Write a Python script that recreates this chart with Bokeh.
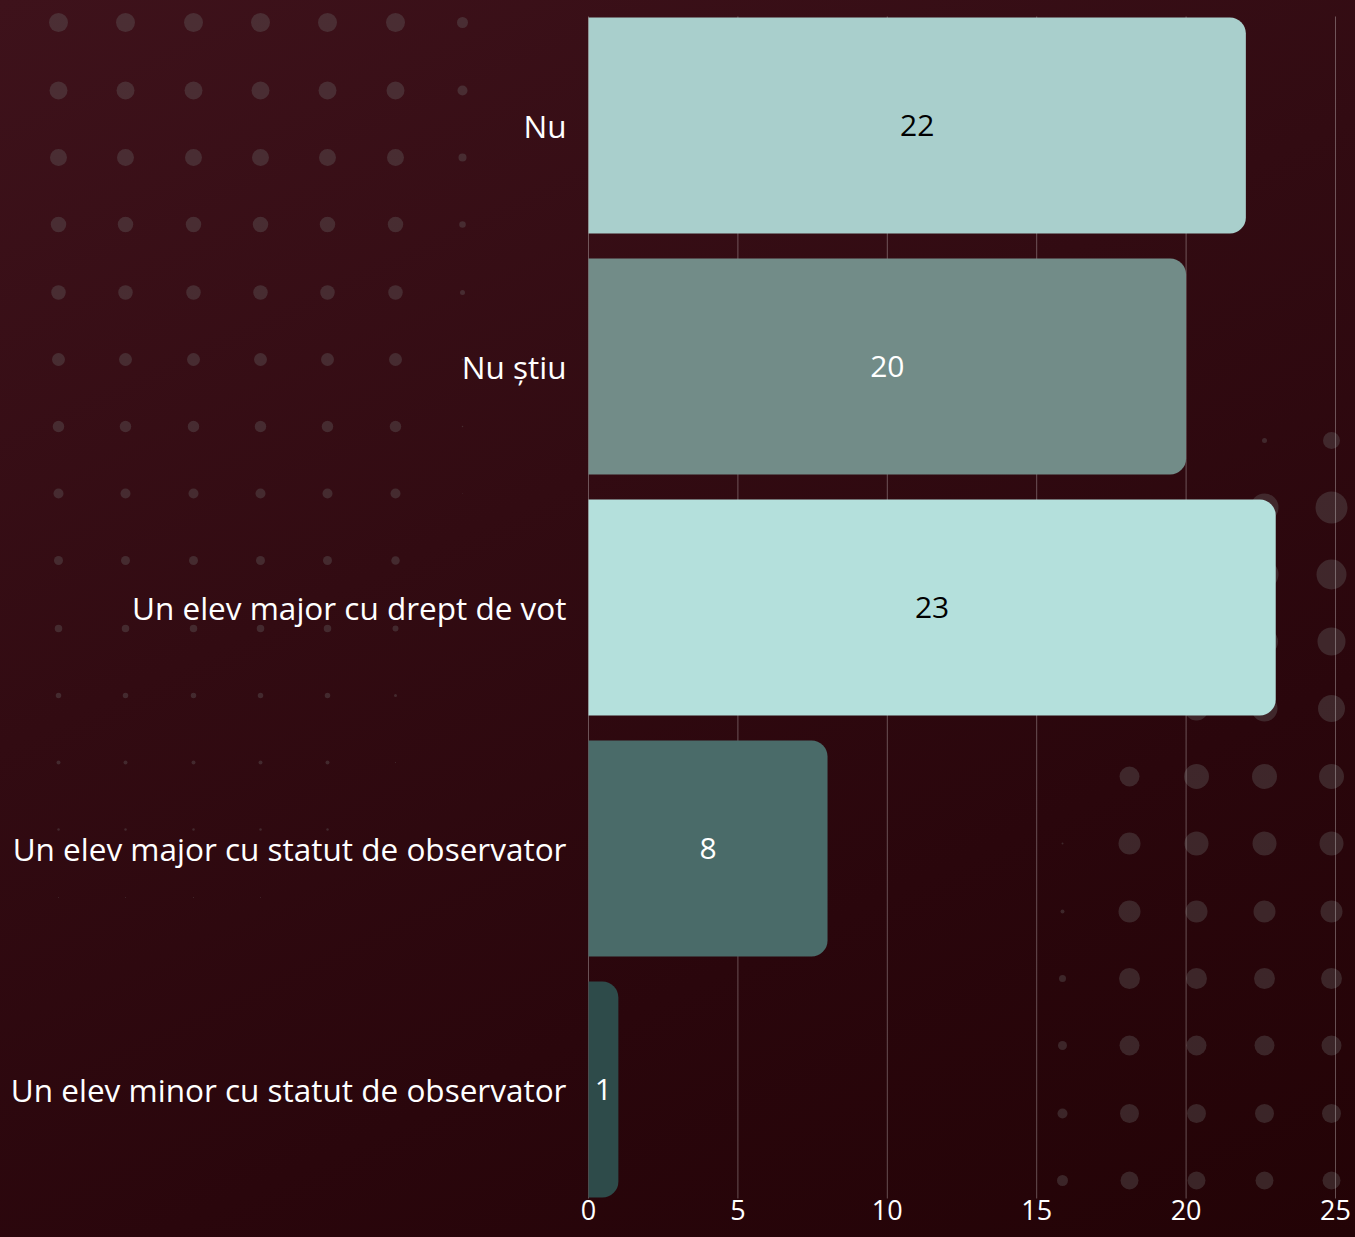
from bokeh.plotting import figure
from bokeh.models import Range1d, FixedTicker, LinearAxis
from bokeh.core.properties import value
from bokeh.embed import file_html
from bokeh.resources import INLINE

# ---------------- data ----------------
categories = [
    "Nu",
    "Nu știu",
    "Un elev major cu drept de vot",
    "Un elev major cu statut de observator",
    "Un elev minor cu statut de observator",
]
counts = [22, 20, 23, 8, 1]
bar_colors = ["#a9cfcc", "#728c88", "#b4e0dc", "#4a6b69", "#2e4b4a"]
label_colors = ["#000000", "#ffffff", "#000000", "#ffffff", "#ffffff"]
x_ticks = [0, 5, 10, 15, 20, 25]

# ---------------- layout (page pixels) ----------------
W, H = 1355, 1237
ORIGIN = 0
X0_PX, X25_PX = 588, 1335      # where 0 and 25 sit on the page
PPU = (X25_PX - X0_PX) / 25.0
BAND = 241.0                   # pixels between category centres
C0 = 125.0                     # page y of first category centre
BAR_H = 216.0 / BAND
GRID_HALF = 0.4523             # grid extends this far beyond first/last centre

x_start = (ORIGIN - X0_PX) / PPU
x_end = (ORIGIN + W - X0_PX) / PPU
y_top = (ORIGIN - C0) / BAND
y_bot = (ORIGIN + H - C0) / BAND

FONT = "Open Sans"

p = figure(width=W, height=H,
           x_range=Range1d(x_start, x_end),
           y_range=Range1d(y_bot, y_top),
           x_axis_location=None, y_axis_location=None,
           min_border=0, toolbar_location=None, output_backend="svg")
p.grid.visible = False
p.outline_line_color = None
p.background_fill_alpha = 0
p.border_fill_alpha = 0
p.styles = {"background": "linear-gradient(155deg, #3e121b 0%, #320b12 40%, #2a060c 70%, #230306 100%)"}

# screen-pixel ranges for background decoration
p.extra_x_ranges = {"sx": Range1d(ORIGIN, ORIGIN + W)}
p.extra_y_ranges = {"sy": Range1d(ORIGIN + H, ORIGIN)}

# ---------------- decorative dots ----------------
ul_cols = [58, 125, 193, 260, 327, 395, 462]
ul_rows = [22, 90, 157, 224, 292, 359, 426, 493, 560, 628, 695, 762, 829, 897]
ul_sizes = [
    [19, 19, 19, 19, 19, 19, 11],
    [18, 18, 18, 18, 18, 18, 10],
    [17, 17, 17, 17, 17, 17, 8],
    [15.5, 15.5, 15.5, 15.5, 15.5, 15.5, 6.5],
    [14.5, 14.5, 14.5, 14.5, 14.5, 14.5, 5],
    [13, 13, 13, 13, 13, 13, 2],
    [11.5, 11.5, 11.5, 11.5, 11.5, 11.5, 1.5],
    [10, 10, 10, 10, 10, 10, 0.8],
    [9, 9, 9, 9, 9, 8.5, 0],
    [7.5, 7.5, 7.5, 7.5, 7.5, 6, 0],
    [5.5, 5.5, 5.5, 5.5, 5.5, 3, 0],
    [4, 4, 4, 4, 4, 1.2, 0],
    [2.5, 2.5, 2.5, 2.5, 2.5, 0, 0],
    [1.2, 1.2, 1.2, 1.2, 0, 0, 0],
]
lr_cols = [1062, 1129, 1196, 1264, 1331]
lr_rows = [440, 507, 574, 641, 708, 776, 843, 911, 978, 1045, 1113, 1180]
lr_sizes = [
    [0, 0, 0, 5, 17],
    [0, 0, 0, 28, 32],
    [0, 0, 0, 28, 30],
    [0, 0, 0, 27, 28],
    [0, 0, 24, 26, 27],
    [0, 20, 25, 25, 25],
    [2, 22, 24, 24, 24],
    [4, 22, 22, 22, 22],
    [7, 21, 21, 21, 21],
    [9, 20, 20, 20, 20],
    [10, 19, 19, 19, 19],
    [11, 18, 18, 18, 18],
]
dx, dy, ds = [], [], []
for cols, rows, sizes in ((ul_cols, ul_rows, ul_sizes), (lr_cols, lr_rows, lr_sizes)):
    for r, yy in enumerate(rows):
        for c, xx in enumerate(cols):
            s = sizes[r][c]
            if s > 0:
                dx.append(xx); dy.append(yy); ds.append(s)
p.scatter(dx, dy, size=ds, marker="circle", fill_color="#6a6a6a", fill_alpha=0.33,
          line_color=None, x_range_name="sx", y_range_name="sy")

# ---------------- grid lines ----------------
idx = list(range(len(categories)))
g_top = idx[0] - GRID_HALF
g_bot = idx[-1] + GRID_HALF
p.segment(x0=x_ticks, x1=x_ticks, y0=[g_top] * len(x_ticks), y1=[g_bot] * len(x_ticks),
          line_color="#ffffff", line_alpha=0.3, line_width=1)

# ---------------- bars ----------------
p.hbar(y=idx, left=0, right=counts, height=BAR_H, fill_color=bar_colors,
       line_color=None, border_radius=(0, 16, 16, 0))

p.text(x=[c / 2 for c in counts], y=idx, text=[str(c) for c in counts],
       text_color=label_colors, text_align="center", text_baseline="middle",
       text_font=value(FONT), text_font_size="30px")

# ---------------- axes ----------------
xaxis = LinearAxis(ticker=FixedTicker(ticks=x_ticks), fixed_location=g_bot)
xaxis.axis_line_color = None
xaxis.major_tick_line_color = None
xaxis.minor_tick_line_color = None
xaxis.major_tick_out = 0
xaxis.major_tick_in = 0
xaxis.major_label_standoff = 1
xaxis.major_label_text_color = "#ffffff"
xaxis.major_label_text_font = FONT
xaxis.major_label_text_font_size = "27px"
p.add_layout(xaxis, "below")

yaxis = LinearAxis(ticker=FixedTicker(ticks=idx), fixed_location=0,
                   major_label_overrides={i: c for i, c in zip(idx, categories)})
yaxis.axis_line_color = None
yaxis.major_tick_line_color = None
yaxis.minor_tick_line_color = None
yaxis.major_tick_out = 0
yaxis.major_tick_in = 0
yaxis.major_label_standoff = 22
yaxis.major_label_text_color = "#ffffff"
yaxis.major_label_text_font = FONT
yaxis.major_label_text_font_size = "31.5px"
p.add_layout(yaxis, "left")

open("out.html", "w").write(file_html(p, INLINE))
